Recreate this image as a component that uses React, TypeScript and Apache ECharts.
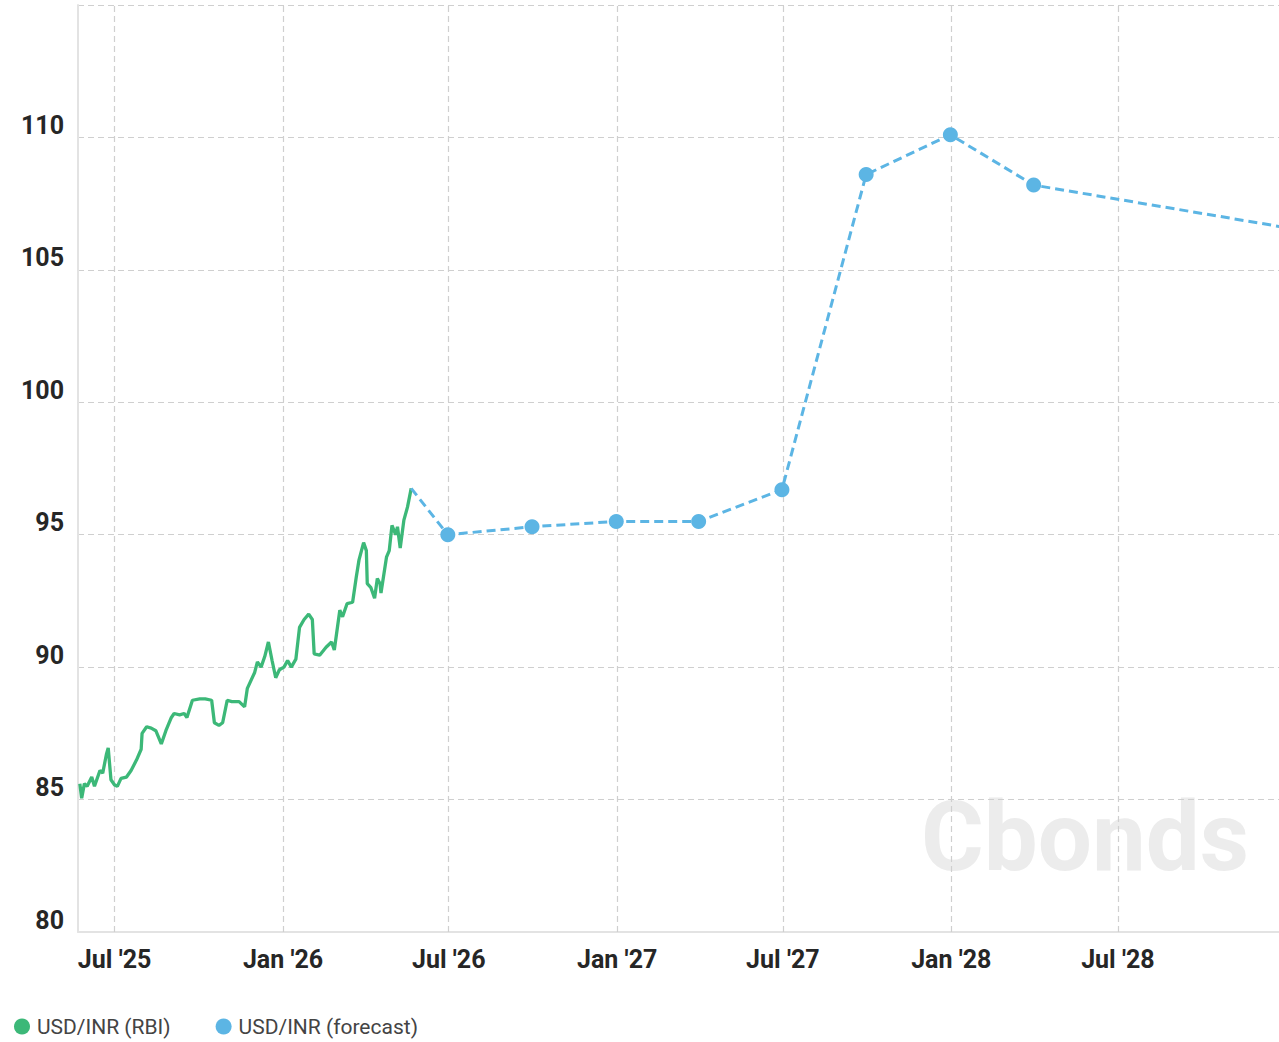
import React, { useEffect, useRef } from "react";
import * as echarts from "echarts";

const rbiDates = [
  "2025-05-24", "2025-05-26", "2025-05-29", "2025-06-01", "2025-06-06", "2025-06-09", "2025-06-15", "2025-06-18",
  "2025-06-22", "2025-06-24", "2025-06-27", "2025-07-01", "2025-07-04", "2025-07-08", "2025-07-14", "2025-07-19",
  "2025-07-25", "2025-07-30", "2025-07-31", "2025-08-05", "2025-08-10", "2025-08-15", "2025-08-21", "2025-08-26",
  "2025-09-01", "2025-09-04", "2025-09-10", "2025-09-15", "2025-09-18", "2025-09-24", "2025-10-02", "2025-10-08",
  "2025-10-15", "2025-10-18", "2025-10-23", "2025-10-27", "2025-11-01", "2025-11-06", "2025-11-14", "2025-11-20",
  "2025-11-23", "2025-12-01", "2025-12-04", "2025-12-08", "2025-12-12", "2025-12-16", "2025-12-20", "2025-12-24",
  "2025-12-28", "2026-01-02", "2026-01-06", "2026-01-10", "2026-01-15", "2026-01-19", "2026-01-24", "2026-01-29",
  "2026-02-02", "2026-02-04", "2026-02-10", "2026-02-17", "2026-02-23", "2026-02-26", "2026-03-04", "2026-03-07",
  "2026-03-12", "2026-03-18", "2026-03-22", "2026-03-25", "2026-03-30", "2026-04-02", "2026-04-03", "2026-04-07",
  "2026-04-11", "2026-04-14", "2026-04-17", "2026-04-18", "2026-04-24", "2026-04-27", "2026-04-30", "2026-05-04",
  "2026-05-06", "2026-05-09", "2026-05-13", "2026-05-17", "2026-05-21",
];
const rbiValues = [
  85.6, 85.05, 85.6, 85.5, 85.85, 85.5, 86.1, 86.0,
  86.7, 86.95, 85.75, 85.55, 85.5, 85.8, 85.85, 86.1,
  86.5, 86.9, 87.5, 87.75, 87.7, 87.6, 87.1, 87.6,
  88.1, 88.25, 88.2, 88.25, 88.1, 88.75, 88.8, 88.8,
  88.75, 87.9, 87.8, 87.9, 88.75, 88.7, 88.7, 88.5,
  89.2, 89.8, 90.2, 90.0, 90.4, 90.95, 90.25, 89.6,
  89.9, 90.0, 90.25, 90.0, 90.3, 91.5, 91.8, 92.0,
  91.8, 90.5, 90.45, 90.75, 90.95, 90.65, 92.15, 91.9,
  92.4, 92.45, 93.4, 94.05, 94.7, 94.4, 93.15, 93.0,
  92.6, 93.35, 93.15, 92.8, 94.15, 94.4, 95.35, 95.0,
  95.3, 94.5, 95.55, 96.05, 96.75,
];

const forecastDates = [
  "2026-06-30", "2026-09-30", "2026-12-31", "2027-03-31", "2027-06-30",
  "2027-09-30", "2027-12-31", "2028-03-31", "2028-12-31",
];
const forecastValues = [95.0, 95.3, 95.5, 95.5, 96.7, 108.6, 110.1, 108.2, 106.6];

const tickDates = ["2025-07-01", "2026-01-01", "2026-07-01", "2027-01-01", "2027-07-01", "2028-01-01", "2028-07-01"];
const tickLabels = ["Jul '25", "Jan '26", "Jul '26", "Jan '27", "Jul '27", "Jan '28", "Jul '28"];

const seriesNames = ["USD/INR (RBI)", "USD/INR (forecast)"];
const GREEN = "#3cb878";
const BLUE = "#5cb5e4";

export default function App() {
  const ref = useRef<HTMLDivElement>(null);
  useEffect(() => {
    if (!ref.current) return;
    const chart = echarts.init(ref.current, undefined, { renderer: "svg" });
    const rbiData = rbiDates.map((d, i) => [d, rbiValues[i]]);
    const lastIdx = rbiDates.length - 1;
    const fcData: any[] = [
      { value: [rbiDates[lastIdx], rbiValues[lastIdx]], symbol: "none" },
      ...forecastDates.map((d, i) => [d, forecastValues[i]]),
    ];
    const labelFont = { fontFamily: "Roboto", fontWeight: "bold" as const, fontSize: 25, color: "#262626" };
    chart.setOption({
      animation: false,
      backgroundColor: "#ffffff",
      textStyle: { fontFamily: "Roboto" },
      grid: { left: 78, right: 0, top: 5, bottom: 110, containLabel: false },
      legend: {
        left: 14,
        top: 1016,
        padding: 0,
        icon: "circle",
        itemWidth: 16,
        itemHeight: 16,
        itemGap: 45,
        textStyle: { fontFamily: "Roboto", fontSize: 21, color: "#444", padding: [0, 0, 0, 2] },
        data: seriesNames,
      },
      graphic: [
        {
          type: "text",
          left: 921,
          top: 789,
          z: -10,
          silent: true,
          style: {
            text: "Cbonds",
            fontFamily: "Roboto",
            fontWeight: "bold",
            fontSize: 96,
            fill: "#ececec",
          },
        },
      ],
      xAxis: {
        type: "time",
        min: "2025-05-22",
        max: "2028-12-24",
        axisLine: { show: true, lineStyle: { color: "#e3e3e3", width: 2 } },
        axisTick: { show: false },
        axisLabel: { show: false },
        splitLine: { show: false },
      },
      yAxis: {
        type: "value",
        min: 80,
        max: 115,
        interval: 5,
        axisLine: { show: true, lineStyle: { color: "#e3e3e3", width: 2 } },
        axisTick: { show: false },
        axisLabel: { ...labelFont, margin: 14, showMaxLabel: false, verticalAlign: "bottom", lineHeight: 24 },
        splitLine: { show: true, lineStyle: { color: "#cfcfcf", type: [6, 4], width: 1.2 } },
      },
      series: [
        {
          name: seriesNames[0],
          type: "line",
          data: rbiData,
          showSymbol: false,
          symbol: "circle",
          itemStyle: { color: GREEN },
          lineStyle: { color: GREEN, width: 3.3 },
          z: 3,
          markLine: {
            silent: true,
            symbol: "none",
            z: 1,
            lineStyle: { color: "#cfcfcf", type: [6, 4], width: 1.2 },
            label: {
              show: true,
              position: "start",
              distance: 15,
              ...labelFont,
              formatter: (p: any) => p.name,
            },
            data: tickDates.map((d, i) => ({ xAxis: d, name: tickLabels[i] })),
          },
        },
        {
          name: seriesNames[1],
          type: "line",
          data: fcData,
          symbol: "circle",
          symbolSize: 15,
          itemStyle: { color: BLUE },
          lineStyle: { color: BLUE, width: 3, type: [9, 5] },
          z: 4,
        },
      ],
    });
    return () => chart.dispose();
  }, []);
  return (
    <div
      ref={ref}
      style={{ position: "fixed", left: 0, top: 0, width: 1279, height: 1042, background: "#fff" }}
    />
  );
}
